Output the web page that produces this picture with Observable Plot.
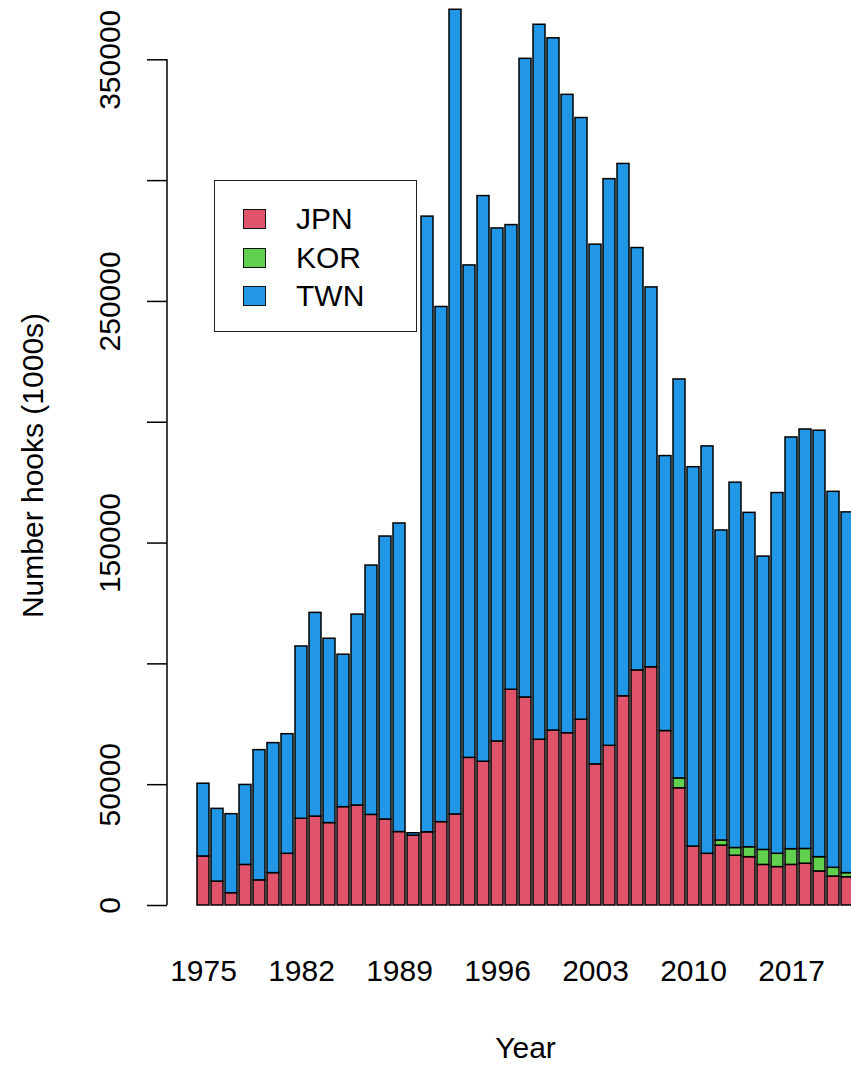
<!DOCTYPE html>
<html>
<head>
<meta charset="utf-8">
<script src="https://cdn.jsdelivr.net/npm/d3@7"></script>
<script src="https://cdn.jsdelivr.net/npm/@observablehq/plot@0.6"></script>
<style>
  html, body { margin: 0; padding: 0; background: white; }
  #wrap { position: relative; width: 851px; height: 1067px; overflow: hidden; font-family: "Liberation Sans", Arial, sans-serif; }
  #legend { position: absolute; left: 214px; top: 180px; width: 201px; height: 150px; border: 1.5px solid #222; background: white; }
  .row { position: absolute; left: 28px; height: 30px; display: flex; align-items: center; }
  .sw { width: 21px; height: 18px; border: 1.5px solid #111; margin-right: 30px; }
  .lab { font-size: 30px; color: black; line-height: 30px; }
</style>
</head>
<body>
<div id="wrap"></div>
<script>
// ---- data ----
const years = [1975,1976,1977,1978,1979,1980,1981,1982,1983,1984,1985,1986,1987,1988,1989,
  1990,1991,1992,1993,1994,1995,1996,1997,1998,1999,2000,2001,2002,2003,2004,2005,2006,2007,
  2008,2009,2010,2011,2012,2013,2014,2015,2016,2017,2018,2019,2020,2021];
const countries = ["JPN", "KOR", "TWN"];
const colors = ["#DF536B", "#61D04F", "#2297E6"];
const jpn = [20300,9900,5100,16800,10400,13400,21400,35900,36800,34100,40700,41400,37500,35600,30400,
  28900,30300,34500,37700,61100,59500,67900,89300,86100,68600,72400,71300,76900,58400,66100,86600,97300,98600,
  72200,48500,24400,21400,24800,20600,20000,16800,15900,16800,17300,14100,12000,11700];
const kor = [0,0,0,0,0,0,0,0,0,0,0,0,0,0,0,
  0,0,0,0,0,0,0,0,0,0,0,0,0,0,0,0,0,0,
  0,4100,0,0,2100,3200,4100,6200,5500,6500,6100,5900,3600,1700];
const twn = [30100,30100,32700,33100,53900,53800,49500,71300,84300,76300,63100,79000,103200,117100,127700,
  1000,254800,213200,333000,203800,234100,212300,192300,264300,295900,286500,264200,249000,215100,234500,220300,174800,157200,
  113800,165100,157000,168600,128300,151200,138400,121400,149300,170400,173600,176500,155600,149300];
const yTicks = [0, 50000, 100000, 150000, 200000, 250000, 300000, 350000];
const yLabels = [0, 50000, 150000, 250000, 350000];
const xLabels = [1975, 1982, 1989, 1996, 2003, 2010, 2017];
const xTitle = "Year";
const yTitle = "Number hooks (1000s)";

const series = [jpn, kor, twn];
const rows = [];
years.forEach((yr, i) => countries.forEach((c, j) => rows.push({year: yr, country: c, value: series[j][i]})));

const W = 851, H = 1067;
const step = 14.16, firstCenter = 199.2;

const axisLine = (index, scales) => {
  const l = document.createElementNS("http://www.w3.org/2000/svg", "line");
  l.setAttribute("x1", 167); l.setAttribute("x2", 167);
  l.setAttribute("y1", scales.y(0)); l.setAttribute("y2", scales.y(350000));
  l.setAttribute("stroke", "black"); l.setAttribute("stroke-width", 1.5);
  return l;
};

const chart = Plot.plot({
  width: W, height: H,
  marginLeft: 147, marginRight: 0, marginTop: 25, marginBottom: 162,
  style: {fontFamily: '"Liberation Sans", Arial, sans-serif', fontSize: "30px", background: "white", overflow: "hidden"},
  x: {type: "band", domain: years, range: [firstCenter - step / 2, firstCenter - step / 2 + years.length * step],
      paddingInner: 1 / 6, paddingOuter: 1 / 12, axis: null},
  y: {domain: [0, 350000], range: [905, 59.3], axis: null},
  color: {domain: countries, range: colors},
  marks: [
    Plot.barY(rows, {x: "year", y: "value", fill: "country", stroke: "black", strokeWidth: 1.5}),
    Plot.ruleY(yTicks, {y: d => d, insetRight: W - 167, stroke: "black", strokeWidth: 1.5}),
    axisLine,
    Plot.text(yLabels, {y: d => d, text: d => String(d), frameAnchor: "left", dx: -37, rotate: -90,
      textAnchor: "middle", lineAnchor: "middle", fontSize: 30, fill: "black"}),
    Plot.text(xLabels, {x: d => d, text: d => String(d), frameAnchor: "bottom", dy: 66,
      lineAnchor: "middle", fontSize: 30, fill: "black"}),
    Plot.text([xTitle], {text: d => d, frameAnchor: "bottom", dx: 26, dy: 143, lineAnchor: "middle", fontSize: 30, fill: "black"}),
    Plot.text([yTitle], {text: d => d, frameAnchor: "left", dx: -114, rotate: -90, textAnchor: "middle",
      lineAnchor: "middle", fontSize: 30, fill: "black"})
  ]
});

const wrap = document.getElementById("wrap");
wrap.appendChild(chart);

// legend
const legend = document.createElement("div");
legend.id = "legend";
const rowTops = [23, 62, 100];
countries.forEach((c, i) => {
  const r = document.createElement("div");
  r.className = "row";
  r.style.top = rowTops[i] + "px";
  const sw = document.createElement("div");
  sw.className = "sw";
  sw.style.background = colors[i];
  const lab = document.createElement("span");
  lab.className = "lab";
  lab.textContent = c;
  r.appendChild(sw); r.appendChild(lab);
  legend.appendChild(r);
});
wrap.appendChild(legend);
</script>
</body>
</html>
